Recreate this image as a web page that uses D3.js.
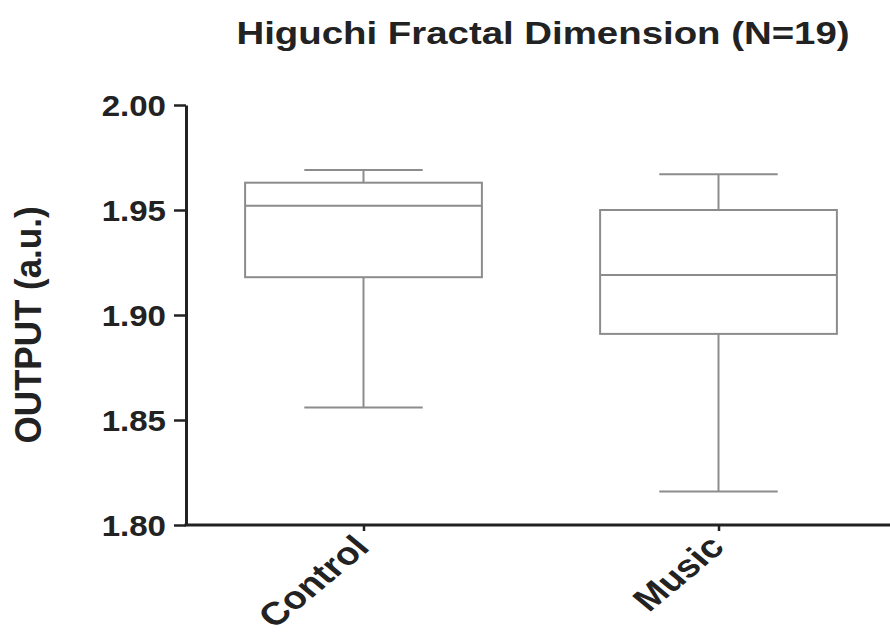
<!DOCTYPE html>
<html>
<head>
<meta charset="utf-8">
<script src="https://cdn.jsdelivr.net/npm/d3@7"></script>
<style>
  html, body { margin: 0; padding: 0; background: #fff; }
  svg { display: block; }
  text { font-family: "Liberation Sans", Arial, sans-serif; font-weight: bold; fill: #222; }
</style>
</head>
<body>
<svg id="chart" width="890" height="636"></svg>
<script>
const categories = ["Control", "Music"];
const whiskerLow  = [1.856, 1.816];
const q1          = [1.918, 1.891];
const median      = [1.952, 1.919];
const q3          = [1.963, 1.950];
const whiskerHigh = [1.969, 1.967];
const yTicks = [1.80, 1.85, 1.90, 1.95, 2.00];
const title = "Higuchi Fractal Dimension (N=19)";
const yLabel = "OUTPUT (a.u.)";

const data = categories.map((c, i) => ({
  cat: c, lo: whiskerLow[i], q1: q1[i], med: median[i], q3: q3[i], hi: whiskerHigh[i]
}));

const svg = d3.select("#chart");
const mLeft = 186, mRight = 896, mTop = 105, mBottom = 525;
const FONT = '"Liberation Sans", Arial, sans-serif';

const y = d3.scaleLinear().domain([1.80, 2.00]).range([mBottom, mTop]);
const x = d3.scalePoint().domain(categories).range([mLeft, mRight]).padding(0.5);
const step = x.step();
const boxW = step * 0.667;
const capW = boxW * 0.5;

// Title
svg.append("text")
  .attr("transform", "translate(543,44) scale(1.2,1)")
  .attr("text-anchor", "middle")
  .style("font-size", "32px")
  .text(title);

// Y label
svg.append("text")
  .attr("transform", `translate(41,${(mTop + mBottom) / 2 + 10}) scale(1.05,1) rotate(-90)`)
  .attr("text-anchor", "middle")
  .style("font-size", "35px")
  .text(yLabel);

// Boxes
const g = svg.append("g").attr("stroke", "#8c8c8c").attr("stroke-width", 2).attr("fill", "none");
data.forEach(d => {
  const cx = x(d.cat);
  g.append("line").attr("x1", cx).attr("x2", cx).attr("y1", y(d.hi)).attr("y2", y(d.q3));
  g.append("line").attr("x1", cx).attr("x2", cx).attr("y1", y(d.q1)).attr("y2", y(d.lo));
  g.append("line").attr("x1", cx - capW / 2).attr("x2", cx + capW / 2).attr("y1", y(d.hi)).attr("y2", y(d.hi));
  g.append("line").attr("x1", cx - capW / 2).attr("x2", cx + capW / 2).attr("y1", y(d.lo)).attr("y2", y(d.lo));
  g.append("rect").attr("x", cx - boxW / 2).attr("width", boxW)
    .attr("y", y(d.q3)).attr("height", y(d.q1) - y(d.q3));
  g.append("line").attr("x1", cx - boxW / 2).attr("x2", cx + boxW / 2).attr("y1", y(d.med)).attr("y2", y(d.med));
});

// Y axis
const yAxis = svg.append("g").attr("transform", `translate(${mLeft},0)`)
  .call(d3.axisLeft(y).tickValues(yTicks).tickFormat(d3.format(".2f")).tickSize(12).tickSizeOuter(0));
yAxis.select(".domain").attr("stroke", "#222").attr("stroke-width", 3);
yAxis.selectAll(".tick line").attr("stroke", "#222").attr("stroke-width", 2.5);
yAxis.selectAll(".tick text")
  .style("font-size", "29px").style("font-family", FONT).style("font-weight", "bold").attr("fill", "#222")
  .attr("x", 0).attr("dy", "0.36em")
  .attr("transform", "translate(-20,0) scale(1.14,1)");

// X axis
const xAxis = svg.append("g").attr("transform", `translate(0,${mBottom})`)
  .call(d3.axisBottom(x).tickSize(6).tickSizeOuter(0));
xAxis.select(".domain").attr("d", `M${mLeft - 1.5},0H890`).attr("stroke", "#222").attr("stroke-width", 3);
xAxis.selectAll(".tick line").attr("stroke", "#222").attr("stroke-width", 2.5);
xAxis.selectAll(".tick text")
  .style("font-size", "32px").style("font-family", FONT).style("font-weight", "bold").attr("fill", "#222")
  .attr("text-anchor", "end")
  .attr("x", 0).attr("y", 0).attr("dy", 0)
  .attr("transform", "translate(7,24) scale(1.2,1) rotate(-45)");
</script>
</body>
</html>
